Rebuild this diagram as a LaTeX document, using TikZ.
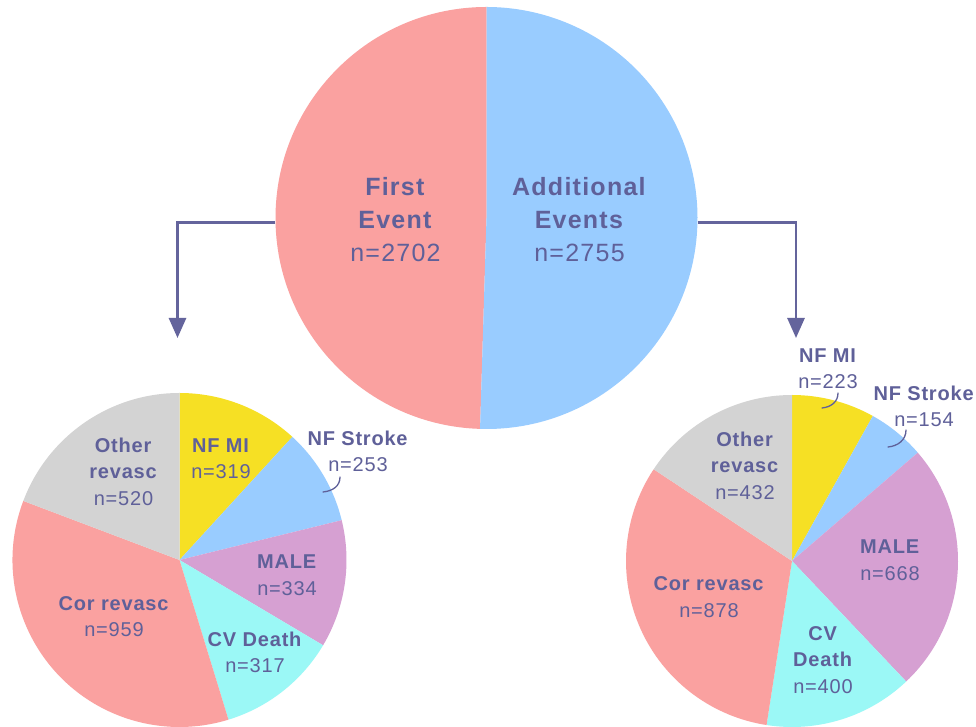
\documentclass[tikz,border=0pt]{standalone}
\usepackage{fontspec}
\setmainfont[LetterSpace=4]{Liberation Sans}
\newfontfamily\bigfam[LetterSpace=5]{Liberation Sans}
\usetikzlibrary{arrows.meta}
\definecolor{pinkc}{RGB}{250,161,160}
\definecolor{bluec}{RGB}{153,204,255}
\definecolor{yellowc}{RGB}{246,224,36}
\definecolor{lilacc}{RGB}{214,160,210}
\definecolor{cyanc}{RGB}{155,248,246}
\definecolor{grayc}{RGB}{211,211,211}
\definecolor{textc}{RGB}{95,96,153}
\definecolor{arrowc}{RGB}{100,100,156}
\newcommand\myslice[5]{\fill[#5] (#1) -- ++(#2:#4) arc[start angle=#2, end angle=#3, radius=#4] -- cycle;}
\tikzset{
  lbl/.style={text=textc, align=center, font=\fontsize{20}{26.5}\selectfont, inner sep=0pt},
  biglbl/.style={text=textc, align=center, font=\bigfam\fontsize{25}{33}\selectfont, inner sep=0pt},
  flow/.style={draw=arrowc, line width=2.7pt, -{Triangle[width=17pt,length=20pt]}},
  leader/.style={draw=textc, line width=1.3pt, line cap=round},
  piearea/.style={circle, inner sep=0pt, minimum size=#1}
}
\begin{document}
\begin{tikzpicture}[x=1pt,y=1pt]
\useasboundingbox (0,0) rectangle (976,727);
\fill[white] (0,0) rectangle (976,727);

% big pie
\coordinate (bc) at (486.5,509);
\node[piearea=422pt] (big) at (bc) {};
\myslice{bc}{90}{268.25}{211pt}{pinkc}
\myslice{bc}{-91.75}{90}{211pt}{bluec}
\node[biglbl] (first) at (395.5,507) {\textbf{First}\\\textbf{Event}\\n=2702};
\node[biglbl] (add) at (579.5,507) {\textbf{Additional}\\\textbf{Events}\\n=2755};

% left pie
\coordinate (lc) at (179.5,167);
\node[piearea=334pt] (lpie) at (lc) {};
\myslice{lc}{47.50}{90}{167pt}{yellowc}
\myslice{lc}{13.79}{47.50}{167pt}{bluec}
\myslice{lc}{-30.71}{13.79}{167pt}{lilacc}
\myslice{lc}{-72.95}{-30.71}{167pt}{cyanc}
\myslice{lc}{-200.72}{-72.95}{167pt}{pinkc}
\myslice{lc}{-270}{-200.72}{167pt}{grayc}

% right pie
\coordinate (rc) at (792,166);
\node[piearea=332pt] (rpie) at (rc) {};
\myslice{rc}{60.86}{90}{166pt}{yellowc}
\myslice{rc}{40.74}{60.86}{166pt}{bluec}
\myslice{rc}{-46.55}{40.74}{166pt}{lilacc}
\myslice{rc}{-98.82}{-46.55}{166pt}{cyanc}
\myslice{rc}{-213.55}{-98.82}{166pt}{pinkc}
\myslice{rc}{-270}{-213.55}{166pt}{grayc}

% arrows
\coordinate (ltip) at (177.5,389);
\coordinate (rtip) at (796,389);
\draw[flow] ([yshift=-4.5pt]big.west) -| (ltip);
\draw[flow] ([yshift=-4.5pt]big.east) -| (rtip);

% left labels
\node[lbl] (lother) at (123.5,255.5) {\textbf{Other}\\\textbf{revasc}\\n=520};
\node[lbl] (lmi) at (221,268.5) {\textbf{NF MI}\\n=319};
\node[lbl] (lstroke) at (358,275.5) {\textbf{NF Stroke}\\n=253};
\node[lbl] (lmale) at (287,152) {\textbf{MALE}\\n=334};
\node[lbl] (lcor) at (114,110.5) {\textbf{Cor revasc}\\n=959};
\node[lbl] (lcv) at (255,74.5) {\textbf{CV Death}\\n=317};
\coordinate (lsa) at (340,250);
\coordinate (lsb) at (323,235);
\draw[leader] (lsa) .. controls (340,241) and (333,236) .. (lsb);

% right labels
\node[lbl] (rmi) at (828,358.5) {\textbf{NF MI}\\n=223};
\node[lbl] (rstroke) at (924,320.5) {\textbf{NF Stroke}\\n=154};
\node[lbl] (rother) at (745,261.5) {\textbf{Other}\\\textbf{revasc}\\n=432};
\node[lbl] (rmale) at (890,167) {\textbf{MALE}\\n=668};
\node[lbl] (rcor) at (709,130) {\textbf{Cor revasc}\\n=878};
\node[lbl] (rcv) at (823,67) {\textbf{CV}\\\textbf{Death}\\n=400};
\coordinate (rma) at (838,334);
\coordinate (rmb) at (822,319);
\draw[leader] (rma) .. controls (838,325) and (831,320) .. (rmb);
\coordinate (rsa) at (906,297);
\coordinate (rsb) at (888,280);
\draw[leader] (rsa) .. controls (906,287) and (898,281) .. (rsb);
\end{tikzpicture}
\end{document}
